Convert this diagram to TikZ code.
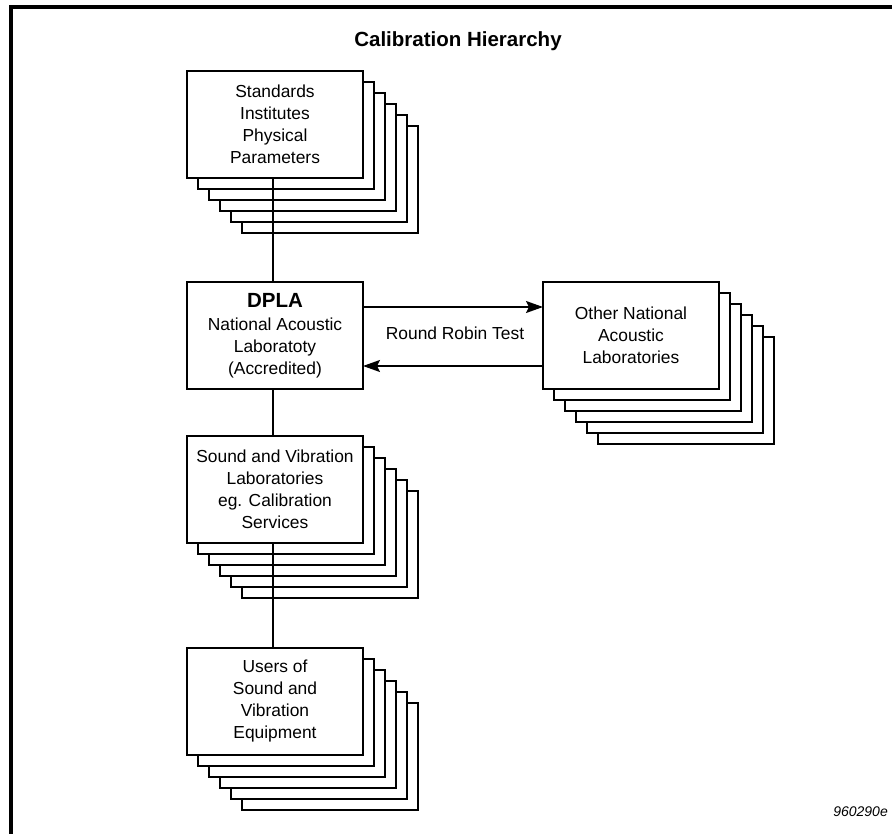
\documentclass[tikz,border=0pt]{standalone}
\usepackage{fontspec}
\setmainfont{Liberation Sans}
\usetikzlibrary{arrows.meta,calc}
\tikzset{
  boxline/.style={draw=black,line width=2.4pt,fill=white},
  frontbox/.style={boxline,minimum width=176pt,minimum height=107pt,inner sep=0pt,outer sep=0pt,
     align=center,font=\fontsize{17.4}{22}\selectfont,anchor=north west},
  conn/.style={draw=black,line width=1.6pt},
  arr/.style={conn,-{Stealth[length=17pt,width=12pt,inset=3pt]}},
  lbl/.style={font=\fontsize{17.4}{22}\selectfont,inner sep=0pt},
  frameline/.style={draw=black,line width=4pt}
}
\newcommand\stackbox[4]{%
  \foreach \k in {5,4,3,2,1}{\draw[boxline] (#1+\k*11,#2+\k*11) rectangle ++(176,107);}
  \node[frontbox] (#3) at (#1,#2) {#4};}
\begin{document}
\begin{tikzpicture}[x=1pt,y=-1pt]
\useasboundingbox (0,0) rectangle (892,834);
\draw[frameline] (11,836) -- (11,7) -- (894,7);
\node[inner sep=0pt,font=\fontsize{20.5}{24}\selectfont\bfseries] (title) at (458,41) {Calibration Hierarchy};
\stackbox{187}{71}{std}{Standards\\Institutes\\Physical\\Parameters}
\stackbox{543}{282}{other}{Other National\\Acoustic\\Laboratories}
\stackbox{187}{436}{svl}{Sound and Vibration\\Laboratories\\eg. Calibration\\Services}
\stackbox{187}{648}{users}{Users of\\Sound and\\Vibration\\Equipment}
\node[frontbox] (dpla) at (187,282) {{\fontsize{20.5}{25}\selectfont\bfseries DPLA}\\[1pt]National Acoustic\\Laboratoty\\(Accredited)};
\draw[conn] ([xshift=-2pt]std.south) -- ([xshift=-2pt]dpla.north);
\draw[conn] ([xshift=-2pt]dpla.south) -- ([xshift=-2pt]svl.north);
\draw[conn] ([xshift=-2pt]svl.south) -- ([xshift=-2pt]users.north);
\draw[arr] ([yshift=28.5pt]dpla.east) -- ([yshift=28.5pt]other.west);
\draw[arr] ([yshift=-30.5pt]other.west) -- ([yshift=-30.5pt]dpla.east);
\node[lbl] (rr) at (455,333) {Round Robin Test};
\node[inner sep=0pt,anchor=east,font=\fontsize{14}{16}\selectfont\itshape] (code) at (888,812) {960290e};
\end{tikzpicture}
\end{document}
